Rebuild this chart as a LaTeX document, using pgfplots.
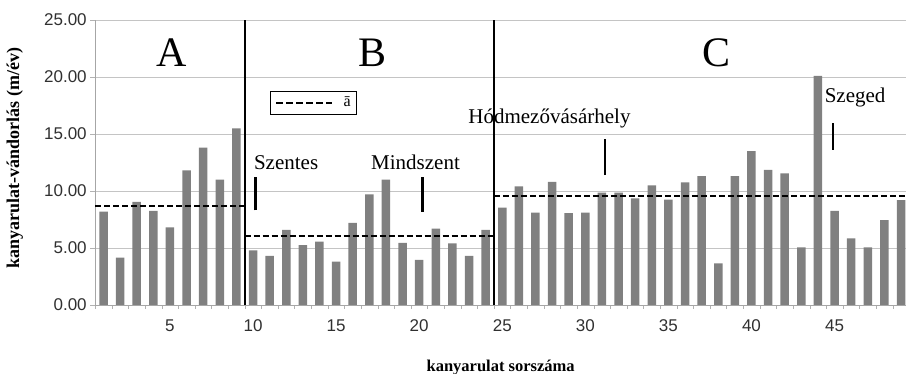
\documentclass[border=0pt]{standalone}
\usepackage{pgfplots}
\pgfplotsset{compat=1.18}
\usepackage{fontspec}
\setmainfont{Liberation Serif}
\newfontfamily\arial{Liberation Sans}
\definecolor{bargray}{HTML}{808080}
\definecolor{gridgray}{HTML}{C4C4C4}
\definecolor{ticktext}{HTML}{303030}
\begin{document}
\begin{tikzpicture}
\path[use as bounding box] (0,0) rectangle (906pt,374pt);
\begin{axis}[
  at={(95.2pt,69pt)}, anchor=south west,
  scale only axis, width=810.8pt, height=285pt,
  xmin=0.5, xmax=49.3, ymin=0, ymax=25,
  clip=false,
  axis lines=left,
  axis line style={draw=gray!70,-},
  ytick={0,5,10,15,20,25},
  ymajorgrids, major grid style={draw=gridgray, line width=0.8pt},
  xtick={5,10,...,45},
  minor xtick={0.5,1.5,...,49.5},
  tick align=outside,
  major x tick style={draw=none},
  minor x tick style={draw=gray!60},
  minor tick length=4pt,
  major tick length=5pt,
  y tick style={draw=gray!60},
  /pgf/number format/assume math mode=true,
  yticklabel={\pgfmathprintnumber[fixed,fixed zerofill,precision=2]{\tick}},
  ticklabel style={font=\arial\fontsize{17}{17}\selectfont, text=ticktext},
  xticklabel style={yshift=-6pt},
  xlabel={\bfseries kanyarulat sorszáma},
  xlabel style={font=\fontsize{16.5}{16.5}\selectfont, at={(axis description cs:0.5,-0.22)}, anchor=center},
  ylabel={\bfseries kanyarulat-vándorlás (m/év)},
  ylabel style={font=\fontsize{18}{18}\selectfont, at={(axis description cs:-0.099,0.516)}, anchor=center, rotate=0},
  legend style={at={(axis cs:11.05,18.8)}, anchor=north west, draw=black, line width=1pt,
    font=\fontsize{16}{16}\selectfont, inner xsep=4pt, inner ysep=4pt,
    /tikz/every odd column/.append style={column sep=8pt}},
  legend image post style={line width=2.6pt, dash pattern=on 7pt off 3pt},
  legend image code/.code={\draw[#1] (0pt,0pt) -- (56pt,0pt);},
]
\addplot[black, line width=2.2pt, dash pattern=on 6pt off 3pt] coordinates {(0.5,8.7) (9.5,8.7)};
\addlegendentry{ā}
\addplot[ybar, bar width=8.5pt, fill=bargray, draw=none, forget plot] coordinates {
(1,8.2) (2,4.15) (3,9.05) (4,8.25) (5,6.8) (6,11.8) (7,13.8) (8,11.0) (9,15.5)
(10,4.8) (11,4.3) (12,6.6) (13,5.25) (14,5.55) (15,3.8) (16,7.2) (17,9.7) (18,11.0)
(19,5.45) (20,3.95) (21,6.7) (22,5.4) (23,4.3) (24,6.6)
(25,8.55) (26,10.4) (27,8.1) (28,10.8) (29,8.05) (30,8.1) (31,9.85) (32,9.85) (33,9.35)
(34,10.5) (35,9.25) (36,10.75) (37,11.3) (38,3.65) (39,11.3) (40,13.5) (41,11.85)
(42,11.55) (43,5.05) (44,20.1) (45,8.25) (46,5.85) (47,5.05) (48,7.45) (49,9.2)
};
% mean lines (redrawn on top of bars)
\addplot[black, line width=2.2pt, dash pattern=on 6pt off 3pt, forget plot] coordinates {(0.5,8.7) (9.5,8.7)};
\addplot[black, line width=2.2pt, dash pattern=on 6pt off 3pt, forget plot] coordinates {(9.5,6.05) (24.5,6.05)};
\addplot[black, line width=2.2pt, dash pattern=on 6pt off 3pt, forget plot] coordinates {(24.5,9.56) (49.3,9.56)};
% section separators
\addplot[black, line width=2.4pt, forget plot] coordinates {(9.5,0) (9.5,25)};
\addplot[black, line width=2.4pt, forget plot] coordinates {(24.5,0) (24.5,25)};
% location markers
\addplot[black, line width=2.4pt, forget plot] coordinates {(10.15,8.3) (10.15,11.2)};
\addplot[black, line width=2.4pt, forget plot] coordinates {(20.2,8.2) (20.2,11.2)};
\addplot[black, line width=2.4pt, forget plot] coordinates {(31.2,11.4) (31.2,14.6)};
\addplot[black, line width=2.4pt, forget plot] coordinates {(44.9,13.6) (44.9,16.0)};
% labels
\node[font=\fontsize{42}{42}\selectfont] at (axis cs:5.1,22.1) {A};
\node[font=\fontsize{42}{42}\selectfont] at (axis cs:17.2,22.1) {B};
\node[font=\fontsize{42}{42}\selectfont] at (axis cs:37.9,22.1) {C};
\node[font=\fontsize{21}{21}\selectfont, anchor=west, inner sep=0pt] at (axis cs:10.05,12.5) {Szentes};
\node[font=\fontsize{21}{21}\selectfont, anchor=west, inner sep=0pt] at (axis cs:17.1,12.5) {Mindszent};
\node[font=\fontsize{21}{21}\selectfont, anchor=west, inner sep=0pt] at (axis cs:22.95,16.4) {Hódmezővásárhely};
\node[font=\fontsize{21}{21}\selectfont, anchor=west, inner sep=0pt] at (axis cs:44.4,18.2) {Szeged};
\end{axis}
\end{tikzpicture}
\end{document}
